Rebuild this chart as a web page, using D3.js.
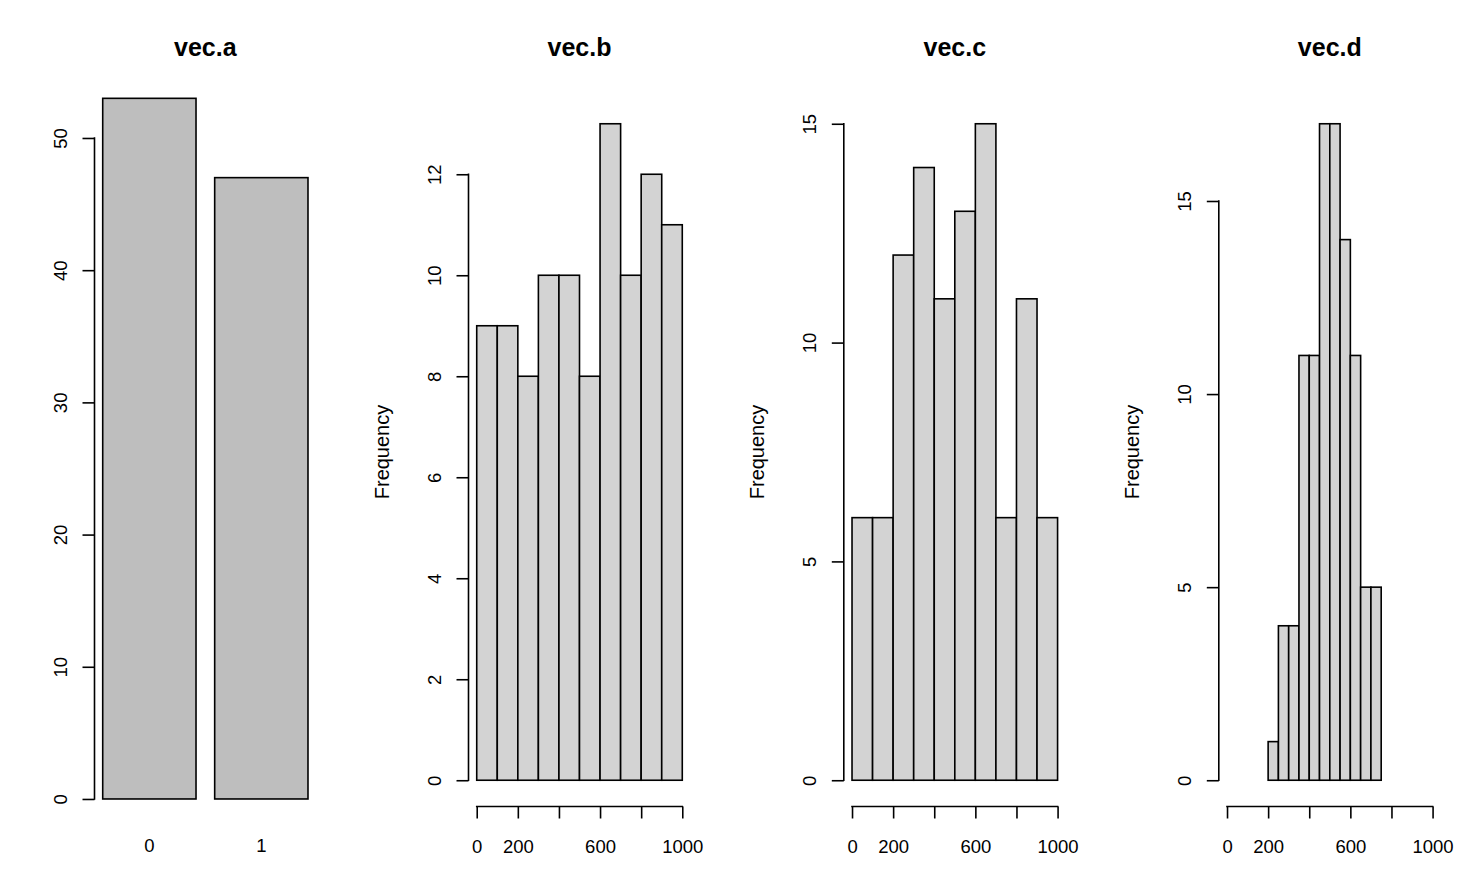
<!DOCTYPE html>
<html>
<head>
<meta charset="utf-8">
<script src="https://cdn.jsdelivr.net/npm/d3@7"></script>
<style>
  body { margin: 0; background: #fff; }
  svg { display: block; font-family: "Liberation Sans", Arial, Helvetica, sans-serif; }
</style>
</head>
<body>
<div id="chart"></div>
<script>
var width = 1476,
    height = 881;

// vec.a barplot
var catsA = ["0", "1"];
var countsA = [53, 47];
var ticksA = [0, 10, 20, 30, 40, 50];

// vec.b / vec.c histograms, bins of 100
var breaksB = [0, 100, 200, 300, 400, 500, 600, 700, 800, 900, 1000];
var countsB = [9, 9, 8, 10, 10, 8, 13, 10, 12, 11];
var ticksB = [0, 2, 4, 6, 8, 10, 12];

var breaksC = [0, 100, 200, 300, 400, 500, 600, 700, 800, 900, 1000];
var countsC = [6, 6, 12, 14, 11, 13, 15, 6, 11, 6];
var ticksC = [0, 5, 10, 15];

// vec.d histogram, bins of 50
var breaksD = [200, 250, 300, 350, 400, 450, 500, 550, 600, 650, 700, 750];
var countsD = [1, 4, 4, 11, 11, 17, 17, 14, 11, 5, 5];
var ticksD = [0, 5, 10, 15];

var xTicks = [0, 200, 400, 600, 800, 1000];
var xTickLabels = ["0", "200", "", "600", "", "1000"];

var tickFont = "18.5px",
    titleFont = "25px",
    labFont = "20px",
    lw = 1.6;

var svg = d3.select("#chart").append("svg")
    .attr("width", width)
    .attr("height", height);

// R style axis: line only between first and last tick
function styleAxis(g, line) {
  g.select(".domain").remove();
  g.selectAll(".tick line").attr("stroke", "#000").attr("stroke-width", lw);
  g.selectAll(".tick text").attr("fill", "#000").style("font-size", tickFont);
  g.append("line")
    .attr("x1", line[0]).attr("y1", line[1])
    .attr("x2", line[2]).attr("y2", line[3])
    .attr("stroke", "#000").attr("stroke-width", lw)
    .attr("stroke-linecap", "square");
}

function yAxis(y, ticks, left) {
  var g = svg.append("g")
      .attr("transform", "translate(" + left + ",0)")
      .call(d3.axisLeft(y).tickValues(ticks).tickSize(12).tickSizeOuter(0));
  styleAxis(g, [0, y(ticks[0]), 0, y(ticks[ticks.length - 1])]);
  g.selectAll(".tick text")
      .attr("x", null).attr("dy", null)
      .attr("text-anchor", "middle")
      .attr("transform", "translate(-28,0) rotate(-90)");
}

function title(text, cx) {
  svg.append("text")
      .attr("x", cx).attr("y", 56)
      .attr("text-anchor", "middle")
      .style("font-size", titleFont)
      .style("font-weight", "bold")
      .text(text);
}

// ---- panel 1: barplot ----
(function() {
  var xu = d3.scaleLinear().domain([0.112, 2.488]).range([94.5, 316.2]);
  var y = d3.scaleLinear()
      .domain([-0.04 * d3.max(countsA), 1.04 * d3.max(countsA)])
      .range([827, 70.3]);
  var x = d3.scaleBand().domain(catsA)
      .range([xu(0.2), xu(2.4)])
      .paddingInner(1 / 6).paddingOuter(0);

  svg.append("g").selectAll("rect")
    .data(countsA)
    .join("rect")
      .attr("x", function(d, i) { return x(catsA[i]); })
      .attr("y", function(d) { return y(d); })
      .attr("width", x.bandwidth())
      .attr("height", function(d) { return y(0) - y(d); })
      .attr("fill", "#bebebe")
      .attr("stroke", "#000")
      .attr("stroke-width", lw);

  yAxis(y, ticksA, xu(0.112));

  var gx = svg.append("g")
      .attr("transform", "translate(0," + y(0) + ")")
      .call(d3.axisBottom(x).tickSize(0));
  gx.select(".domain").remove();
  gx.selectAll(".tick text")
      .attr("y", 852 - y(0)).attr("dy", null)
      .attr("fill", "#000")
      .style("font-size", tickFont);

  title("vec.a", (xu(0.112) + xu(2.488)) / 2);
})();

// ---- panels 2-4: histograms ----
function histogram(name, breaks, counts, ticks, left) {
  var x = d3.scaleLinear().domain([-40, 1040]).range([left, left + 222]);
  var max = d3.max(counts);
  var y = d3.scaleLinear().domain([-0.04 * max, 1.04 * max]).range([806.5, 97.5]);

  svg.append("g").selectAll("rect")
    .data(counts)
    .join("rect")
      .attr("x", function(d, i) { return x(breaks[i]); })
      .attr("y", function(d) { return y(d); })
      .attr("width", function(d, i) { return x(breaks[i + 1]) - x(breaks[i]); })
      .attr("height", function(d) { return y(0) - y(d); })
      .attr("fill", "#d3d3d3")
      .attr("stroke", "#000")
      .attr("stroke-width", lw);

  yAxis(y, ticks, left);

  var gx = svg.append("g")
      .attr("transform", "translate(0," + y(-0.04 * max) + ")")
      .call(d3.axisBottom(x).tickValues(xTicks).tickSize(12).tickSizeOuter(0)
        .tickFormat(function(d, i) { return xTickLabels[i]; }));
  styleAxis(gx, [x(xTicks[0]), 0, x(xTicks[xTicks.length - 1]), 0]);
  gx.selectAll(".tick text").attr("y", 46).attr("dy", null);

  svg.append("text")
      .attr("transform", "translate(" + (left - 80) + "," + (y.range()[0] + y.range()[1]) / 2 + ") rotate(-90)")
      .attr("text-anchor", "middle")
      .style("font-size", labFont)
      .text("Frequency");

  title(name, left + 111);
}

histogram("vec.b", breaksB, countsB, ticksB, 468.5);
histogram("vec.c", breaksC, countsC, ticksC, 843.8);
histogram("vec.d", breaksD, countsD, ticksD, 1218.8);
</script>
</body>
</html>
